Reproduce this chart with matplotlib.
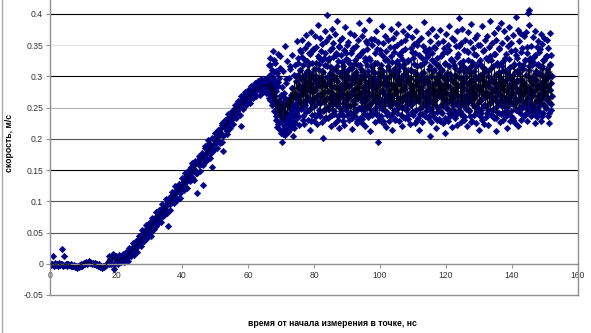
import numpy as np
import matplotlib.pyplot as plt
from matplotlib.lines import Line2D

plt.rcParams['font.family'] = ['Liberation Sans', 'DejaVu Sans']

# velocity in thousandths of m/s
# black line (smoothed), start time and step in ns
line_rise_t0, line_rise_dt = 0.0, 0.5
line_rise = [
    0, -1, 0, -2, -1, 0, -1, -2, -2, -1, -1, -2, -1, -3, -3, -4, -4, -3, -2, -1,
    0, 1, 1, 3, 2, 1, 0, -1, -2, -3, -4, -4, -5, -3, -2, 1, 4, 8, 11, 9,
    7, 5, 6, 8, 7, 9, 11, 12, 16, 18, 22, 24, 29, 31, 35, 38, 42, 46, 49, 53,
    56, 58, 63, 65, 69, 73, 76, 80, 83, 86, 90, 94, 97, 100, 104, 108, 111, 114, 118, 121,
    126, 129, 133, 136, 140, 144, 147, 150, 154, 158, 161, 164, 168, 172, 175, 179, 183, 186, 190, 194,
    198, 201, 205, 208, 212, 216, 220, 224, 228, 231, 235, 239, 242, 245, 249, 253, 256, 259, 262, 266,
    268, 271, 273, 276, 277, 279, 280, 283, 283, 285, 285, 287, 286,
]
line_flat_t0, line_flat_dt = 66.3, 0.3
line_flat = [
    286, 278, 291, 272, 284, 262, 279, 250, 268, 241, 262, 233, 256, 228, 250, 266, 231, 252, 262, 238,
    266, 244, 275, 252, 283, 258, 292, 262, 301, 266, 250, 308, 262, 247, 316, 251, 297, 258, 310, 246,
    291, 322, 244, 303, 258, 315, 240, 298, 326, 249, 288, 312, 236, 305, 255, 318, 247, 309, 233, 296,
    262, 241, 327, 254, 306, 237, 313, 268, 245, 320, 252, 301, 236, 298, 319, 244, 274, 324, 250, 303,
    238, 311, 259, 244, 322, 270, 234, 309, 253, 328, 246, 297, 262, 316, 235, 290, 312, 248, 321, 257,
    243, 305, 266, 235, 318, 252, 299, 325, 245, 292, 256, 314, 238, 301, 323, 249, 310, 261, 240, 317,
    296, 251, 328, 247, 306, 236, 313, 260, 322, 249, 299, 242, 318, 257, 305, 234, 294, 326, 253, 308,
    245, 315, 272, 250, 324, 239, 303, 258, 312, 246, 327, 255, 301, 236, 316, 265, 248, 320, 292, 241,
    309, 254, 323, 247, 297, 315, 235, 304, 251, 319, 243, 306, 262, 326, 249, 300, 238, 313, 257, 307,
    246, 321, 266, 251, 312, 236, 302, 259, 325, 244, 309, 255, 298, 317, 233, 305, 252, 322, 263, 247,
    316, 270, 240, 310, 257, 327, 249, 303, 236, 314, 264, 248, 320, 255, 307, 241, 315, 266, 324, 250,
    302, 238, 311, 259, 246, 325, 268, 244, 316, 256, 305, 234, 297, 319, 252, 311, 242, 303, 260, 322,
    249, 308, 237, 299, 317, 255, 304, 243, 327, 262, 247, 313, 268, 239, 310, 257, 321, 250, 302, 254,
    314, 243, 301, 325, 252, 307, 236, 311, 264, 248, 319, 257, 304, 241, 314, 268, 253, 323, 245, 309,
    261, 317, 249, 305, 320, 256, 308,
]

# blue points (raw measurements)
dots_rise_t0, dots_rise_dt = 0.0, 0.25
dots_rise = [
    1, -2, 0, -1, 12, -3, 1, -2, -1, 0, -3, 1, -2, -1, 24, 0, -3, 13, -2, -1,
    -1, -3, 0, -2, -2, -4, -1, -3, -4, -2, -5, -3, -4, -6, -3, -5, -2, -4, -1, -3,
    0, 2, -1, 1, 3, 0, 2, 4, 1, 3, 2, 0, 1, -1, 2, 0, -2, -1, -3, -1,
    -4, -5, -3, -6, -4, -5, -3, -4,
    -2, 0, 3, -1, 4, 7, 2, 9, 14, 11, -9, 13,
    10, 4, 8, 3, 6, 12, 5, 9, 13, 6, 10, 15, 8, 12, 17, 11, 14, 20, 16, 22,
    19, 27, 24, 31, 26, 34, 30, 38, 35, 44, 39, 47, 42, 36, 46, 53, 48, 44, 57, 50,
    55, 62, 51, 66, 59, 70, 63, 74, 67, 60, 76, 71, 82, 74, 79, 88, 83, 77, 90, 85,
    92, 86, 98, 61, 103, 95, 101, 108, 99, 112, 106, 117, 109, 115, 104, 122, 118, 126, 113, 124,
    129, 121, 135, 128, 139, 131, 144, 136, 150, 141, 146, 155, 139, 149, 158, 152, 161, 146, 113, 164,
    158, 166, 170, 159, 174, 167, 126, 172, 185, 164, 177, 189, 181, 193, 175, 186, 155, 190, 183, 200,
    202, 193, 208, 199, 212, 205, 216, 209, 222, 195, 180, 226, 218, 231, 223, 212, 234, 227, 239, 230,
    238, 232, 244, 236, 249, 241, 253, 245, 258, 250, 255, 263, 220, 260, 268, 257, 264, 271, 260, 268,
    272, 264, 276, 269, 280, 273, 277, 284, 271, 281, 286, 278, 283, 290, 279, 287, 292, 282, 288, 295,
    287, 283, 294, 289,
]
dots_rise2_t0, dots_rise2_dt = 18.0, 0.5
dots_rise2 = [
    13, 0, 16, -1, 13, -1, 14, 3, 16, 3, 19, 5, 26, 12, 34, 14, 37, 19, 45, 29,
    54, 36, 62, 42, 65, 45, 74, 56, 83, 63, 86, 67, 95, 78, 103, 82, 106, 86, 115, 98,
    125, 102, 128, 106, 138, 118, 146, 122, 150, 132, 161, 134, 165, 145, 173, 149, 178, 158, 188, 167,
    198, 170, 201, 181, 210, 186, 215, 194, 225, 204, 231, 208, 240, 218, 245, 224, 255, 233, 260, 239,
    268, 248, 275, 254, 279, 258, 285, 266, 290, 268, 292, 271, 296, 275, 296, 273, 295,
]
dots_flat_t0, dots_flat_dt = 66.1, 0.1
dots_flat = [
    291, 274, 318, 283, 265, 302, 287, 329, 270, 296, 281, 311, 262, 289, 341, 276, 298, 259, 307, 284,
    268, 322, 245, 291, 230, 276, 305, 252, 219, 284, 336, 240, 263, 297, 226, 258, 314, 238, 271, 209,
    246, 195, 283, 227, 258, 214, 309, 237, 252, 221, 348, 265, 206, 241, 290, 229, 217, 256, 325, 233,
    211, 262, 238, 297, 224, 249, 316, 235, 271, 218, 259, 334, 244, 282, 228, 205, 267, 303, 251, 239,
    273, 226, 318, 255, 241, 292, 357, 263, 234, 281, 329, 248, 302, 269, 222, 287, 343, 258, 311, 276,
    296, 248, 331, 272, 359, 237, 284, 318, 261, 303, 224, 277, 346, 255, 291, 367, 243, 309, 268, 325,
    283, 352, 231, 297, 262, 338, 276, 215, 306, 249, 371, 288, 257, 322, 239, 281, 344, 266, 298, 228,
    312, 254, 365, 279, 236, 301, 347, 263, 289, 224, 333, 271, 382, 246, 295, 320, 258, 361, 237, 284,
    269, 340, 227, 308, 352, 260, 293, 201, 329, 275, 246, 373, 287, 318, 233, 264, 356, 299, 251, 398,
    276, 234, 327, 290, 363, 248, 305, 266, 342, 221, 284, 315, 257, 376, 296, 239, 331, 272, 353, 261,
    300, 245, 368, 283, 226, 337, 270, 311, 254, 389, 292, 236, 324, 263, 347, 279, 218, 306, 358, 250,
    287, 334, 241, 299, 270, 362, 228, 316, 258, 343, 281, 223, 305, 264, 379, 294, 247, 328, 272, 351,
    239, 310, 266, 355, 284, 230, 321, 297, 252, 370, 275, 242, 338, 289, 216, 313, 261, 346, 279, 304,
    256, 367, 293, 237, 326, 271, 349, 245, 302, 281, 229, 359, 267, 318, 250, 386, 290, 233, 335, 274,
    312, 248, 296, 364, 259, 225, 341, 283, 307, 240, 374, 268, 299, 253, 330, 221, 286, 357, 263, 319,
    277, 344, 235, 303, 266, 391, 284, 249, 327, 212, 295, 360, 258, 316, 274, 238, 351, 289, 245, 308,
    360, 262, 298, 227, 337, 280, 251, 372, 293, 240, 322, 269, 195, 306, 355, 257, 286, 231, 343, 275,
    291, 236, 318, 263, 381, 248, 302, 277, 354, 226, 289, 331, 255, 364, 271, 297, 219, 340, 284, 260,
    243, 327, 290, 358, 265, 229, 311, 279, 347, 252, 300, 237, 376, 268, 323, 286, 214, 305, 361, 257,
    282, 339, 246, 314, 273, 231, 369, 297, 256, 325, 288, 242, 351, 266, 309, 384, 253, 292, 228, 334,
    317, 264, 355, 238, 296, 278, 341, 221, 303, 262, 372, 284, 249, 320, 270, 233, 358, 293, 255, 309,
    248, 301, 366, 272, 232, 326, 289, 257, 379, 264, 298, 224, 345, 281, 311, 243, 363, 276, 238, 329,
    285, 352, 259, 307, 226, 338, 271, 294, 246, 373, 262, 317, 230, 291, 356, 268, 214, 334, 279, 302,
    267, 240, 319, 283, 361, 251, 296, 227, 348, 274, 305, 258, 387, 289, 236, 323, 265, 342, 297, 244,
    331, 276, 253, 369, 290, 234, 312, 268, 344, 205, 282, 356, 247, 301, 273, 227, 337, 260, 376, 288,
    256, 308, 235, 347, 279, 322, 262, 289, 218, 365, 297, 243, 330, 271, 353, 250, 293, 232, 315, 268,
    302, 229, 374, 286, 254, 333, 267, 310, 241, 357, 280, 226, 299, 345, 263, 320, 210, 288, 368, 249,
    273, 339, 258, 294, 228, 351, 285, 317, 246, 380, 270, 304, 237, 327, 262, 296, 219, 361, 279, 254,
    325, 266, 241, 358, 291, 234, 314, 276, 349, 257, 300, 223, 372, 283, 245, 336, 268, 309, 252, 393,
    287, 244, 321, 270, 353, 227, 298, 262, 376, 283, 239, 316, 255, 343, 291, 231, 307, 269, 359, 248,
    299, 258, 340, 278, 220, 327, 264, 371, 289, 246, 313, 273, 236, 355, 295, 260, 384, 281, 229, 318,
    266, 345, 292, 239, 308, 275, 362, 251, 287, 226, 334, 270, 298, 243, 367, 284, 257, 322, 215, 301,
    278, 236, 350, 296, 263, 319, 247, 381, 285, 230, 306, 272, 341, 255, 293, 224, 358, 267, 312, 289,
    253, 329, 274, 365, 242, 301, 284, 222, 347, 269, 310, 257, 388, 292, 238, 326, 261, 354, 280, 246,
    317, 265, 296, 233, 370, 279, 249, 336, 288, 213, 303, 260, 359, 276, 243, 322, 290, 377, 254, 307,
    272, 344, 227, 299, 262, 385, 283, 240, 316, 268, 353, 231, 291, 325, 257, 372, 279, 245, 309, 266,
    336, 251, 294, 218, 361, 277, 304, 243, 348, 286, 260, 379, 229, 315, 271, 296, 237, 353, 282, 258,
    301, 234, 367, 273, 320, 255, 289, 226, 342, 266, 395, 281, 247, 330, 263, 308, 221, 374, 292, 250,
    279, 357, 242, 313, 370, 268, 296, 231, 345, 285, 254, 366, 272, 319, 238, 364, 290, 259, 327, 276,
    249, 302, 371, 264, 228, 338, 283, 401, 245, 310, 273, 406, 382, 294, 257, 324, 267, 349, 236, 298,
    318, 270, 253, 363, 288, 240, 331, 277, 304, 226, 372, 261, 295, 248, 347, 283, 235, 320, 268, 356,
    287, 244, 339, 272, 305, 259, 368, 281, 229, 316, 266, 352, 293, 241, 327, 276, 362, 255, 300, 284,
    271, 333, 250, 296, 358, 263, 312, 237, 284, 346, 259, 301, 226, 369, 278, 320, 247, 290, 335, 268,
]
dots_band_t0, dots_band_dt = 66.2, 0.2
dots_band = [
    279, 301, 262, 318, 288, 254, 296, 271, 327, 245, 283, 236, 309, 258, 224, 291, 247, 332, 215, 268,
    232, 251, 208, 274, 226, 243, 296, 219, 257, 238, 213, 264, 229, 312, 247, 222, 281, 236, 255, 217,
    268, 243, 301, 257, 322, 236, 285, 264, 311, 249, 339, 272, 230, 298, 256, 326, 281, 244, 307, 262,
    318, 247, 289, 336, 261, 229, 304, 276, 343, 252, 295, 238, 321, 268, 284, 312, 241, 330, 257, 299,
    272, 326, 244, 307, 259, 338, 233, 286, 316, 265, 248, 329, 291, 237, 303, 275, 345, 254, 312, 263,
    240, 298, 334, 258, 317, 231, 282, 349, 267, 306, 245, 323, 274, 236, 311, 289, 252, 337, 262, 300,
    327, 255, 286, 241, 314, 270, 342, 234, 299, 263, 320, 248, 307, 281, 226, 333, 266, 295, 250, 318,
    264, 339, 232, 303, 276, 247, 325, 260, 291, 353, 238, 309, 271, 330, 256, 285, 242, 316, 297, 268,
    305, 246, 322, 283, 258, 344, 237, 297, 266, 313, 251, 336, 278, 229, 308, 262, 327, 245, 290, 271,
    238, 316, 271, 299, 254, 332, 264, 240, 310, 286, 347, 258, 232, 303, 277, 321, 249, 294, 336, 260,
    289, 251, 328, 266, 235, 313, 280, 344, 247, 301, 262, 325, 239, 296, 271, 310, 255, 339, 284, 243,
    320, 268, 245, 305, 287, 351, 233, 294, 261, 318, 249, 282, 330, 240, 307, 273, 256, 341, 265, 298,
    257, 334, 292, 236, 316, 263, 300, 248, 327, 279, 242, 311, 268, 345, 253, 289, 231, 319, 276, 306,
    281, 243, 312, 270, 337, 255, 298, 234, 321, 264, 306, 250, 285, 342, 241, 303, 274, 328, 259, 293,
    246, 318, 273, 302, 238, 331, 286, 261, 349, 252, 297, 240, 314, 277, 325, 256, 291, 235, 309, 268,
    312, 257, 288, 339, 244, 306, 270, 227, 323, 281, 254, 336, 265, 300, 242, 317, 283, 350, 249, 296,
    263, 327, 241, 299, 276, 314, 252, 343, 287, 235, 308, 269, 326, 247, 291, 258, 333, 274, 239, 315,
    292, 248, 336, 267, 304, 233, 318, 281, 257, 345, 242, 296, 271, 322, 253, 309, 286, 238, 329, 262,
    237, 310, 279, 253, 328, 266, 299, 245, 341, 272, 316, 230, 289, 307, 258, 334, 247, 295, 275, 320,
    305, 262, 294, 339, 249, 312, 273, 236, 326, 284, 258, 347, 241, 300, 268, 317, 252, 330, 279, 244,
    271, 323, 248, 297, 335, 259, 308, 240, 318, 283, 252, 344, 266, 302, 237, 314, 289, 255, 327, 274,
    296, 249, 332, 265, 307, 241, 319, 278, 256, 301,
]

xticks = [0, 20, 40, 60, 80, 100, 120, 140, 160]
yticks = [-0.05, 0, 0.05, 0.1, 0.15, 0.2, 0.25, 0.3, 0.35, 0.4]
ytick_labels = ['-0.05', '0', '0.05', '0.1', '0.15', '0.2', '0.25', '0.3', '0.35', '0.4']
grid_y = [0.05, 0.1, 0.15, 0.2, 0.25, 0.3, 0.35, 0.4]
grid_c = ['#555555', '#555555', '#000000', '#555555', '#b4b4b4', '#000000', '#e4e4e4', '#000000']

xlabel = 'время от начала измерения в точке, нс'
ylabel = 'скорость, м/с'


def series(t0, dt, vals):
    t = t0 + dt * np.arange(len(vals))
    return t, np.asarray(vals) / 1000.0


fig = plt.figure(figsize=(5.91, 3.33), dpi=100)
ax = fig.add_axes([50/591, 38/333, 528/591, 295/333])
ax.set_xlim(0, 160)
ax.set_ylim(-0.05, 0.4224)

for y, c in zip(grid_y, grid_c):
    ax.axhline(y, color=c, lw=0.8, zorder=0)
ax.axhline(-0.05, color='#909090', lw=1.0, zorder=0, clip_on=False)

navy = '#000080'
dot_sets = [
    (dots_rise_t0, dots_rise_dt, dots_rise),
    (dots_rise2_t0, dots_rise2_dt, dots_rise2),
    (dots_flat_t0, dots_flat_dt, dots_flat),
    (dots_band_t0, dots_band_dt, dots_band),
]
for t0, dt, vals in dot_sets:
    t, v = series(t0, dt, vals)
    ax.plot(t, v, ls='none', marker='D', ms=3.4, mfc=navy, mec=navy, mew=0.3, zorder=2)

t1, v1 = series(line_rise_t0, line_rise_dt, line_rise)
t2, v2 = series(line_flat_t0, line_flat_dt, line_flat)
ax.plot(np.concatenate([t1, t2]), np.concatenate([v1, v2]), color='black', lw=0.55, zorder=3)

ax.spines['top'].set_visible(False)
for s in ['left', 'right', 'bottom']:
    ax.spines[s].set_color('#909090')
    ax.spines[s].set_linewidth(1.0)
ax.spines['bottom'].set_position(('data', 0))

ax.set_xticks(xticks)
ax.set_xticklabels([str(x) for x in xticks])
ax.set_yticks(yticks)
ax.set_yticklabels(ytick_labels)
ax.tick_params(length=3, width=0.7, color='#909090', labelsize=6.2, labelcolor='#333333', pad=2)

fig.text(332/591, 1 - 323/333, xlabel, ha='center', va='center', fontsize=6.2, fontweight='bold')
fig.text(10/591, 1 - 143/333, ylabel, ha='center', va='center', fontsize=6.2, fontweight='bold', rotation=90)
fig.add_artist(Line2D([2/591, 2/591], [0, 1], color='#a8a8a8', lw=1.0))

fig.savefig('out.png', dpi=100)
